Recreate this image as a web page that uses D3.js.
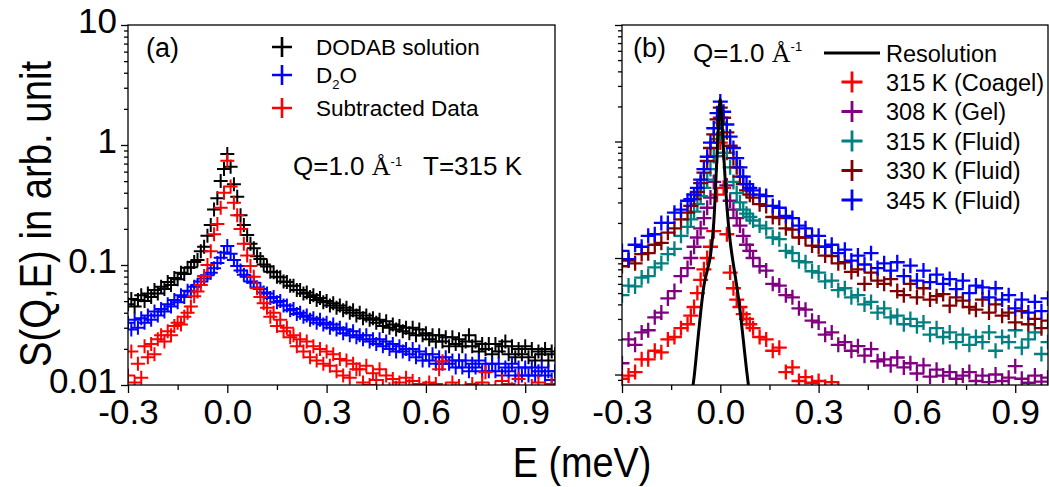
<!DOCTYPE html>
<html>
<head>
<meta charset="utf-8">
<script src="https://cdn.jsdelivr.net/npm/d3@7"></script>
<style>
body { margin: 0; background: #fff; }
svg text { font-family: "Liberation Sans", Arial, Helvetica, sans-serif; fill: #000; }
</style>
</head>
<body>
<div id="chart"></div>
<script>
// ---- data, panel (a): E grid in meV, step 0.01 from -0.30 to 0.99
const energyA = d3.range(130).map(i => +(-0.30 + 0.01 * i).toFixed(2));

const dodab = [
  0.047, 0.052, 0.045, 0.051, 0.056, 0.050, 0.058, 0.054, 0.062, 0.058,
  0.066, 0.063, 0.072, 0.068, 0.078, 0.076, 0.086, 0.084, 0.095, 0.096,
  0.106, 0.110, 0.13, 0.142, 0.175, 0.215, 0.29, 0.36, 0.50, 0.63,
  0.84, 0.66, 0.47, 0.37, 0.26, 0.215, 0.178, 0.15, 0.138, 0.118,
  0.112, 0.101, 0.097, 0.088, 0.087, 0.080, 0.079, 0.073, 0.072, 0.067,
  0.067, 0.062, 0.062, 0.058, 0.059, 0.054, 0.056, 0.051, 0.053, 0.049,
  0.050, 0.046, 0.048, 0.044, 0.046, 0.042, 0.044, 0.040, 0.042, 0.038,
  0.040, 0.036, 0.038, 0.035, 0.036, 0.033, 0.035, 0.031, 0.034, 0.030,
  0.032, 0.029, 0.031, 0.028, 0.030, 0.027, 0.030, 0.026, 0.029, 0.026,
  0.027, 0.024, 0.026, 0.023, 0.026, 0.023, 0.025, 0.021, 0.025, 0.022,
  0.024, 0.021, 0.023, 0.026, 0.021, 0.023, 0.019, 0.022, 0.020, 0.022,
  0.018, 0.022, 0.019, 0.021, 0.023, 0.018, 0.021, 0.017, 0.020, 0.018,
  0.021, 0.017, 0.020, 0.016, 0.019, 0.018, 0.020, 0.016, 0.019, 0.018
];
const d2o = [
  0.033, 0.029, 0.035, 0.030, 0.036, 0.033, 0.038, 0.035, 0.041, 0.038,
  0.043, 0.041, 0.047, 0.045, 0.051, 0.049, 0.056, 0.054, 0.061, 0.060,
  0.066, 0.068, 0.073, 0.077, 0.082, 0.086, 0.094, 0.104, 0.115, 0.127,
  0.144, 0.124, 0.110, 0.098, 0.090, 0.083, 0.080, 0.073, 0.071, 0.065,
  0.063, 0.059, 0.058, 0.053, 0.054, 0.049, 0.050, 0.046, 0.046, 0.042,
  0.043, 0.039, 0.040, 0.037, 0.038, 0.035, 0.036, 0.033, 0.035, 0.032,
  0.033, 0.030, 0.032, 0.029, 0.030, 0.027, 0.029, 0.026, 0.028, 0.025,
  0.026, 0.024, 0.026, 0.023, 0.024, 0.022, 0.024, 0.021, 0.023, 0.020,
  0.022, 0.019, 0.021, 0.019, 0.020, 0.018, 0.020, 0.017, 0.019, 0.016,
  0.018, 0.016, 0.018, 0.015, 0.017, 0.015, 0.017, 0.015, 0.016, 0.014,
  0.016, 0.014, 0.016, 0.013, 0.015, 0.014, 0.016, 0.013, 0.015, 0.013,
  0.015, 0.013, 0.015, 0.012, 0.014, 0.013, 0.015, 0.012, 0.014, 0.012,
  0.014, 0.012, 0.014, 0.012, 0.013, 0.014, 0.012, 0.013, 0.011, 0.013
];
const subtracted = [
  0.012, 0.019, 0.0105, 0.015, 0.0115, 0.021, 0.017, 0.022, 0.018, 0.024,
  0.026, 0.023, 0.028, 0.026, 0.031, 0.033, 0.032, 0.037, 0.040, 0.045,
  0.055, 0.060, 0.068, 0.081, 0.100, 0.13, 0.18, 0.22, 0.30, 0.40,
  0.74, 0.45, 0.33, 0.26, 0.20, 0.15, 0.12, 0.098, 0.080, 0.064,
  0.054, 0.048, 0.044, 0.037, 0.040, 0.031, 0.035, 0.028, 0.030, 0.025,
  0.026, 0.021, 0.024, 0.019, 0.023, 0.017, 0.021, 0.016, 0.020, 0.015,
  0.019, 0.0145, 0.018, 0.013, 0.0165, 0.012, 0.016, 0.0115, 0.015, 0.0135,
  0.0135, 0.0105, 0.0145, 0.0100, 0.0125, 0.011, 0.0135, 0.0098, 0.012, 0.0092,
  0.0112, 0.0095, 0.0105, 0.0088, 0.0115, 0.0098, 0.0108, 0.009, 0.0102, 0.0086,
  0.0095, 0.0105, 0.0088, 0.0102, 0.0135, 0.0158, 0.0092, 0.0085, 0.0105, 0.0092,
  0.0098, 0.0086, 0.0094, 0.0088, 0.0102, 0.0092, 0.0085, 0.0105, 0.0128, 0.0092,
  0.0086, 0.0095, 0.0088, 0.0108, 0.0085, 0.0102, 0.0092, 0.0086, 0.0112, 0.0088,
  0.0092, 0.0085, 0.0098, 0.0088, 0.0105, 0.0086, 0.0094, 0.0088, 0.0102, 0.009
];

// ---- data, panel (b): E grid in meV (finer near the elastic peak)
const energyB = [
  -0.30, -0.28, -0.26, -0.24, -0.22, -0.20, -0.18, -0.16, -0.14, -0.12, -0.10,
  -0.09, -0.08, -0.07, -0.06, -0.05, -0.04, -0.03, -0.02, -0.01, 0.00,
  0.01, 0.02, 0.03, 0.04, 0.05, 0.06, 0.07, 0.08, 0.09,
  0.10, 0.12, 0.14, 0.16, 0.18, 0.20, 0.22, 0.24, 0.26, 0.28,
  0.30, 0.32, 0.34, 0.36, 0.38, 0.40, 0.42, 0.44, 0.46, 0.48,
  0.50, 0.52, 0.54, 0.56, 0.58, 0.60, 0.62, 0.64, 0.66, 0.68,
  0.70, 0.72, 0.74, 0.76, 0.78, 0.80, 0.82, 0.84, 0.86, 0.88,
  0.90, 0.92, 0.94, 0.96, 0.98, 1.00
];
const coagel315 = [
  0.0092, 0.0098, 0.0105, 0.0135, 0.0135, 0.016, 0.0155, 0.02, 0.021, 0.025, 0.027,
  0.032, 0.038, 0.05, 0.065, 0.08, 0.10, 0.125, 0.17, 0.35, 0.98,
  0.4, 0.16, 0.075, 0.055, 0.044, 0.038, 0.033, 0.030, 0.027,
  0.025, 0.021, 0.020, 0.016, 0.017, 0.0105, 0.0115, 0.0088, 0.0095, 0.0085,
  0.0088, 0.0078, 0.0086, 0.0075, 0.007, 0.0068, null, null, null, null,
  null, null, null, null, null, null, null, null, null, null,
  null, null, null, null, null, null, null, null, null, null,
  null, null, null, null, null, null
];
const gel308 = [
  0.0125, 0.02, 0.018, 0.023, 0.024, 0.031, 0.034, 0.045, 0.052, 0.07, 0.082,
  0.10, 0.125, 0.15, 0.18, 0.22, 0.27, 0.33, 0.45, 0.75, 1.6,
  0.8, 0.42, 0.31, 0.26, 0.22, 0.19, 0.155, 0.13, 0.115,
  0.10, 0.085, 0.078, 0.06, 0.058, 0.048, 0.046, 0.037, 0.036, 0.029,
  0.028, 0.022, 0.023, 0.018, 0.019, 0.016, 0.0175, 0.0145, 0.0165, 0.013,
  0.0135, 0.012, 0.014, 0.0115, 0.0125, 0.0102, 0.012, 0.0096, 0.011, 0.0098,
  0.0105, 0.0092, 0.0098, 0.0105, 0.0088, 0.0098, 0.0086, 0.010, 0.0088, 0.0094,
  0.0118, 0.0092, 0.0085, 0.0098, 0.0087, 0.0094
];
const fluid315 = [
  0.048, 0.058, 0.057, 0.068, 0.07, 0.083, 0.09, 0.108, 0.12, 0.155, 0.185,
  0.215, 0.25, 0.29, 0.34, 0.40, 0.47, 0.58, 0.75, 1.05, 1.45,
  1.1, 0.8, 0.6, 0.45, 0.36, 0.30, 0.26, 0.24, 0.225,
  0.21, 0.19, 0.18, 0.15, 0.145, 0.115, 0.11, 0.094, 0.092, 0.077,
  0.075, 0.063, 0.064, 0.053, 0.055, 0.046, 0.048, 0.04, 0.042, 0.034,
  0.037, 0.031, 0.032, 0.027, 0.03, 0.026, 0.028, 0.022, 0.025, 0.021,
  0.023, 0.019, 0.022, 0.018, 0.021, 0.019, 0.023, 0.016, 0.021, 0.019,
  0.024, 0.017, 0.020, 0.023, 0.015, 0.019
];
const fluid330 = [
  0.085, 0.095, 0.09, 0.108, 0.11, 0.13, 0.135, 0.165, 0.18, 0.215, 0.245,
  0.28, 0.32, 0.37, 0.44, 0.54, 0.68, 0.88, 1.15, 1.55, 1.95,
  1.6, 1.2, 0.92, 0.72, 0.6, 0.5, 0.43, 0.38, 0.35,
  0.33, 0.29, 0.28, 0.225, 0.22, 0.18, 0.175, 0.15, 0.15, 0.128,
  0.125, 0.105, 0.104, 0.09, 0.092, 0.076, 0.08, 0.06, 0.075, 0.064,
  0.06, 0.066, 0.052, 0.048, 0.06, 0.046, 0.055, 0.044, 0.047, 0.049,
  0.039, 0.046, 0.043, 0.038, 0.036, 0.044, 0.034, 0.04, 0.032, 0.034,
  0.028, 0.035, 0.027, 0.03, 0.025, 0.029
];
const fluid345 = [
  0.115, 0.098, 0.13, 0.125, 0.155, 0.16, 0.20, 0.20, 0.245, 0.26, 0.31,
  0.32, 0.35, 0.40, 0.47, 0.58, 0.74, 0.98, 1.3, 1.75, 2.2,
  1.8, 1.4, 1.1, 0.88, 0.72, 0.6, 0.5, 0.43, 0.40,
  0.38, 0.35, 0.34, 0.28, 0.27, 0.23, 0.22, 0.19, 0.18, 0.155,
  0.155, 0.125, 0.13, 0.11, 0.118, 0.095, 0.105, 0.088, 0.11, 0.082,
  0.09, 0.078, 0.092, 0.07, 0.086, 0.064, 0.078, 0.062, 0.072, 0.06,
  0.066, 0.054, 0.064, 0.05, 0.058, 0.056, 0.046, 0.055, 0.044, 0.048,
  0.037, 0.044, 0.034, 0.042, 0.035, 0.045
];
// instrument resolution (line)
const resE = [-0.09, -0.08, -0.07, -0.06, -0.05, -0.04, -0.03, -0.02, -0.01, 0,
              0.01, 0.02, 0.03, 0.04, 0.05, 0.06, 0.07, 0.08, 0.09];
const resV = [0.006, 0.0095, 0.018, 0.034, 0.058, 0.078, 0.105, 0.2, 0.75, 2.3,
              0.8, 0.28, 0.14, 0.088, 0.058, 0.036, 0.02, 0.011, 0.0065];

// ---- ticks
const xMajor = [-0.3, 0.0, 0.3, 0.6, 0.9];
const xMinor = [-0.15, 0.15, 0.45, 0.75];
const yMajor = [0.01, 0.1, 1, 10];
const yMinor = [];
[0.001, 0.01, 0.1, 1].forEach(d => { for (let k = 2; k < 10; k++) yMinor.push(d * k); });

const W = 1049, H = 487;
const svg = d3.select("#chart").append("svg").attr("width", W).attr("height", H);

const crossPath = s => `M${-s},0H${s}M0,${-s}V${s}`;

function makePanel(p) {
  const x = d3.scaleLinear().domain(p.xDomain).range([p.left, p.right]);
  const y = d3.scaleLog().domain(p.yDomain).range([p.bottom, p.top]);
  const g = svg.append("g");
  g.append("clipPath").attr("id", p.id).append("rect")
    .attr("x", p.left).attr("y", p.top)
    .attr("width", p.right - p.left).attr("height", p.bottom - p.top);

  const styleAxis = a => {
    a.select(".domain").remove();
    a.selectAll("line").attr("stroke", "#000").attr("stroke-width", 1.3);
    a.attr("font-size", 35).attr("font-family", "Liberation Sans, Arial, sans-serif");
    a.selectAll("text").attr("fill", "#000");
  };

  g.append("g").attr("transform", `translate(0,${p.bottom})`)
    .call(d3.axisBottom(x).tickValues(xMajor).tickSize(8).tickPadding(6).tickFormat(d => d.toFixed(1)))
    .call(styleAxis);
  g.append("g").attr("transform", `translate(0,${p.bottom})`)
    .call(d3.axisBottom(x).tickValues(xMinor).tickSize(5).tickFormat(""))
    .call(styleAxis);

  const yFmt = p.yLabels ? (d => String(d)) : (() => "");
  g.append("g").attr("transform", `translate(${p.left},0)`)
    .call(d3.axisLeft(y).tickValues(yMajor.filter(v => v >= p.yDomain[0])).tickSize(7).tickPadding(4).tickFormat(yFmt))
    .call(styleAxis)
    .call(a => a.selectAll("text").attr("dy", "0.22em"));
  g.append("g").attr("transform", `translate(${p.left},0)`)
    .call(d3.axisLeft(y).tickValues(yMinor.filter(v => v >= p.yDomain[0] && v <= p.yDomain[1])).tickSize(4).tickFormat(""))
    .call(styleAxis);

  const plot = g.append("g").attr("clip-path", `url(#${p.id})`);
  return { x, y, g, plot, p };
}

function drawCrosses(panel, energies, values, color, size, width) {
  const pts = energies.map((e, i) => [e, values[i]]).filter(d => d[1] != null);
  panel.plot.append("g").selectAll("path").data(pts).join("path")
    .attr("transform", d => `translate(${panel.x(d[0])},${panel.y(d[1])})`)
    .attr("d", crossPath(size))
    .attr("fill", "none").attr("stroke", color).attr("stroke-width", width);
}

function frame(panel) {
  const p = panel.p;
  panel.g.append("rect").attr("x", p.left).attr("y", p.top)
    .attr("width", p.right - p.left).attr("height", p.bottom - p.top)
    .attr("fill", "none").attr("stroke", "#000").attr("stroke-width", 1.3);
}

// ---- panel (a)
const pa = makePanel({ id: "clipA", left: 128, right: 555, top: 25, bottom: 385,
  xDomain: [-0.3, 0.99], yDomain: [0.01, 10], yLabels: true });
drawCrosses(pa, energyA, dodab, "#000000", 7, 2);
drawCrosses(pa, energyA, d2o, "#0000ff", 7, 2);
drawCrosses(pa, energyA, subtracted, "#ff0000", 7, 2);
frame(pa);

pa.g.append("text").attr("x", 146).attr("y", 57).attr("font-size", 27).text("(a)");
const legA = [
  { label: "DODAB solution", color: "#000000", cy: 47 },
  { label: "D2O", color: "#0000ff", cy: 75 },
  { label: "Subtracted Data", color: "#ff0000", cy: 108 }
];
legA.forEach(d => {
  pa.g.append("path").attr("transform", `translate(282,${d.cy})`).attr("d", crossPath(10))
    .attr("fill", "none").attr("stroke", d.color).attr("stroke-width", 2.6);
  const t = pa.g.append("text").attr("x", 316).attr("y", d.cy + 8).attr("font-size", 22.5);
  if (d.label === "D2O") {
    t.append("tspan").text("D");
    t.append("tspan").attr("font-size", 13).attr("dy", 6).text("2");
    t.append("tspan").attr("dy", -6).text("O");
  } else {
    t.text(d.label);
  }
});
const qa = pa.g.append("text").attr("x", 293).attr("y", 175).attr("font-size", 26);
qa.append("tspan").text("Q=1.0 ");
qa.append("tspan").attr("font-family", "Liberation Serif, Times New Roman, serif").text("Å");
qa.append("tspan").attr("font-size", 13).attr("dy", -9).text("-1");
pa.g.append("text").attr("x", 423).attr("y", 175).attr("font-size", 26).text("T=315 K");

// ---- panel (b)
const pb = makePanel({ id: "clipB", left: 622, right: 1048, top: 25, bottom: 385,
  xDomain: [-0.3, 1.0], yDomain: [0.00813, 10], yLabels: false });
const seriesB = [
  { label: "315 K (Coagel)", values: coagel315, color: "#ff0000" },
  { label: "308 K (Gel)", values: gel308, color: "#800080" },
  { label: "315 K (Fluid)", values: fluid315, color: "#008080" },
  { label: "330 K (Fluid)", values: fluid330, color: "#800000" },
  { label: "345 K (Fluid)", values: fluid345, color: "#0000ff" }
];
seriesB.forEach(s => drawCrosses(pb, energyB, s.values, s.color, 7.5, 2.3));
pb.plot.append("path")
  .datum(resE.map((e, i) => [e, resV[i]]))
  .attr("fill", "none").attr("stroke", "#000").attr("stroke-width", 3)
  .attr("d", d3.line().x(d => pb.x(d[0])).y(d => pb.y(d[1])).curve(d3.curveMonotoneX));
frame(pb);

pb.g.append("text").attr("x", 633).attr("y", 57).attr("font-size", 27).text("(b)");
const qb = pb.g.append("text").attr("x", 693).attr("y", 62).attr("font-size", 26);
qb.append("tspan").text("Q=1.0 ");
qb.append("tspan").attr("font-family", "Liberation Serif, Times New Roman, serif").text("Å");
qb.append("tspan").attr("font-size", 13).attr("dy", -11).text("-1");

pb.g.append("line").attr("x1", 824).attr("x2", 880).attr("y1", 53).attr("y2", 53)
  .attr("stroke", "#000").attr("stroke-width", 3);
pb.g.append("text").attr("x", 886).attr("y", 61.5).attr("font-size", 23.5).text("Resolution");
const legYB = [82, 111.5, 141, 170.5, 200];
seriesB.forEach((s, i) => {
  pb.g.append("path").attr("transform", `translate(852,${legYB[i]})`).attr("d", crossPath(10.5))
    .attr("fill", "none").attr("stroke", s.color).attr("stroke-width", 2.8);
  pb.g.append("text").attr("x", 886).attr("y", legYB[i] + 8.5).attr("font-size", 23.5).text(s.label);
});

// ---- axis titles (font is a little narrower than Arial in the original)
svg.append("text").attr("transform", "translate(51,214) rotate(-90) scale(0.85,1)")
  .attr("text-anchor", "middle").attr("font-size", 45).text("S(Q,E) in arb. unit");
svg.append("text").attr("transform", "translate(582,477) scale(0.88,1)")
  .attr("text-anchor", "middle").attr("font-size", 43).text("E (meV)");
</script>
</body>
</html>
